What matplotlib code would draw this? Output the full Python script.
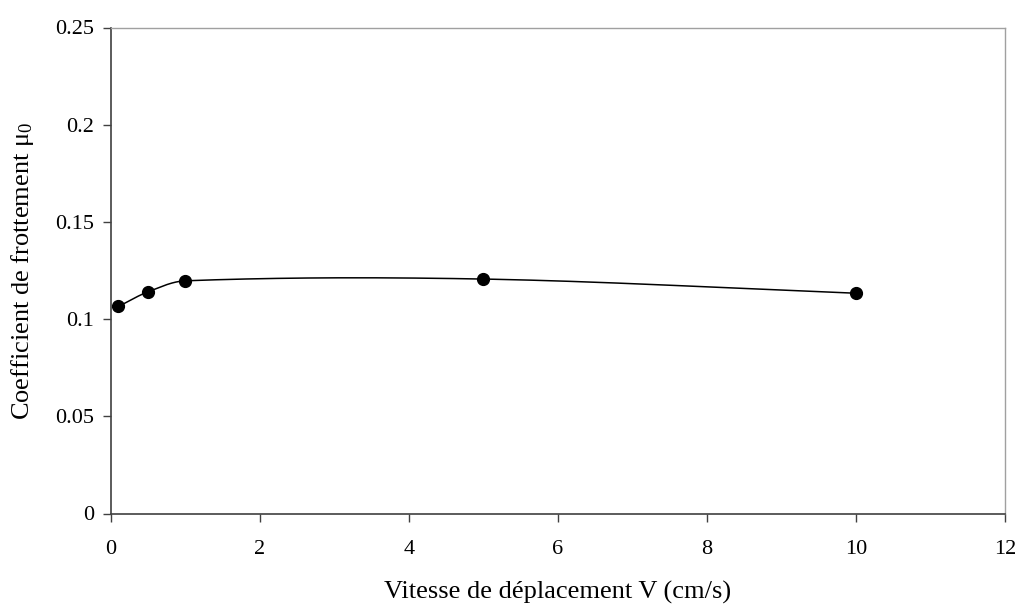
import numpy as np
import matplotlib
matplotlib.use("Agg")
import matplotlib.pyplot as plt

# Measured friction coefficient vs sliding velocity
vitesse = [0.1, 0.5, 1.0, 5.0, 10.0]
mu0 = [0.1065, 0.1141, 0.1197, 0.1206, 0.1133]

x_ticks = [0, 2, 4, 6, 8, 10, 12]
y_ticks = [0, 0.05, 0.1, 0.15, 0.2, 0.25]
y_tick_labels = ["0", "0.05", "0.1", "0.15", "0.2", "0.25"]

plt.rcParams.update({
    "font.family": ["Liberation Serif", "DejaVu Serif"],
    "mathtext.fontset": "custom",
    "mathtext.rm": "Liberation Serif",
    "mathtext.it": "Liberation Serif",
    "xtick.labelsize": 16,
    "ytick.labelsize": 16,
})


def smooth_curve(xs, ys, sx=74.5, sy=1944.0, n=40):
    """Smoothed line like a spreadsheet chart: cubic Bezier segments whose
    control points follow the neighbour direction, scaled by segment length
    (computed in screen-like units so the shape does not loop)."""
    pts = np.column_stack([np.asarray(xs) * sx, np.asarray(ys) * sy])
    m = len(pts)
    tang = []
    for i in range(m):
        d = pts[min(i + 1, m - 1)] - pts[max(i - 1, 0)]
        tang.append(d / np.hypot(*d))
    out = [pts[0]]
    t = np.linspace(0, 1, n)[1:, None]
    for i in range(m - 1):
        p1, p2 = pts[i], pts[i + 1]
        L = np.hypot(*(p2 - p1))
        c1 = p1 + tang[i] * L / 3
        c2 = p2 - tang[i + 1] * L / 3
        seg = ((1 - t) ** 3) * p1 + 3 * ((1 - t) ** 2) * t * c1 \
            + 3 * (1 - t) * t ** 2 * c2 + t ** 3 * p2
        out.extend(seg)
    out = np.array(out)
    return out[:, 0] / sx, out[:, 1] / sy


fig = plt.figure(figsize=(10.2, 6.08), dpi=100)
ax = fig.add_axes([111 / 1020, 1 - 513.5 / 608, 894 / 1020, 486 / 608])

cx, cy = smooth_curve(vitesse, mu0)
ax.plot(cx, cy, color="black", linewidth=1.1, zorder=2)
ax.plot(vitesse, mu0, linestyle="none", marker="o", markersize=8.5,
        color="black", zorder=3)

ax.set_xlim(0, 12)
ax.set_ylim(0, 0.25)
ax.set_xticks(x_ticks)
ax.set_yticks(y_ticks)
ax.set_yticklabels(y_tick_labels)
ax.tick_params(direction="out", length=6, width=1, color="#404040", pad=6)
ax.tick_params(axis="x", pad=13)

for side in ["left", "bottom"]:
    ax.spines[side].set_color("#404040")
    ax.spines[side].set_linewidth(1.2)
for side in ["top", "right"]:
    ax.spines[side].set_color("#a0a0a0")
    ax.spines[side].set_linewidth(1.0)

ax.set_xlabel("Vitesse de déplacement V (cm/s)", fontsize=19, labelpad=16)
ax.set_ylabel(r"Coefficient de frottement $\mathrm{\mu}_0$", fontsize=19, labelpad=14)

fig.savefig("out.png", dpi=100)
